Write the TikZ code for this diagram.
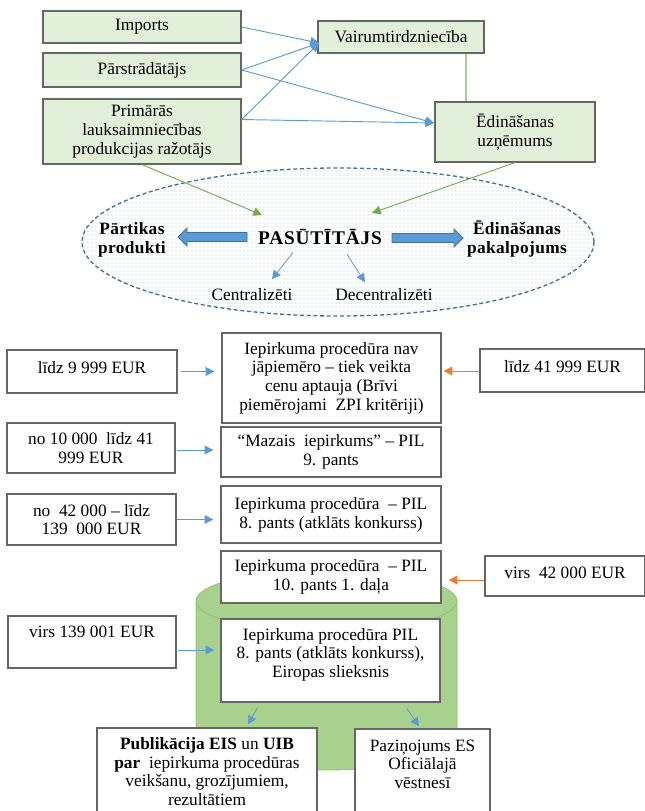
\documentclass[tikz,border=0pt]{standalone}
\usepackage{fontspec}
\setmainfont{Liberation Serif}
\usetikzlibrary{arrows.meta,shapes.geometric,calc,patterns}

\definecolor{boxgreen}{HTML}{E2F0D9}
\definecolor{boxline}{HTML}{666666}
\definecolor{arrblue}{HTML}{5B9BD5}
\definecolor{arrblueline}{HTML}{41719C}
\definecolor{arrorange}{HTML}{ED7D31}
\definecolor{arrgreen}{HTML}{70AD47}
\definecolor{linegreen}{HTML}{A9D18E}
\definecolor{dashblue}{HTML}{41719C}
\definecolor{dotblue}{HTML}{A8C4E0}
\definecolor{cylfill}{HTML}{A9D18E}
\definecolor{cylline}{HTML}{93C072}

\begin{document}
\begin{tikzpicture}[x=0.75pt,y=-0.75pt,
  font=\fontsize{13}{14}\selectfont,
  wh/.style 2 args={minimum width=#1*0.75pt, minimum height=#2*0.75pt},
  box/.style={draw=boxline, line width=0.9pt, inner sep=0pt, align=center},
  gbox/.style={box, fill=boxgreen},
  wbox/.style={box, fill=white},
  lift/.style={text height=9pt, text depth=#1},
  tip/.style={-{Triangle[length=6.5pt,width=6.5pt]}},
  flow/.style={draw=arrblue, line width=0.7pt, tip},
  oflow/.style={draw=arrorange, line width=0.7pt, tip},
  gflow/.style={draw=arrgreen, line width=0.7pt, tip},
  blockarrow/.style={draw=arrblueline, fill=arrblue, line width=0.6pt, line join=miter},
  bold/.style={font=\bfseries\fontsize{13}{14.5}\selectfont\addfontfeature{LetterSpace=2}, align=center}
]
\useasboundingbox (0,0) rectangle (645,811);

% ---------- supply chain ----------
\node[gbox, wh={198}{32}] (imp) at (142,27) {Imports};
\node[gbox, wh={198}{34}] (par) at (142,70) {Pārstrādātājs};
\node[gbox, wh={198}{65}] (pri) at (142,131.5) {Primārās\\lauksaimniecības\\produkcijas ražotājs};
\node[gbox, wh={166}{32}] (vai) at (401,37) {Vairumtirdzniecība};
\node[gbox, wh={160}{60}] (edu) at (515,132) {Ēdināšanas\\uzņēmums};

\coordinate (vin) at (319,43);
\coordinate (ein) at (434,123);
\coordinate (gx) at (466,0);

\draw[flow] (imp.east) -- (vin);
\draw[flow] (par.east) -- (vin);
\draw[flow] (par.east) -- (ein);
\draw[flow] ($(pri.east)+(0,-12)$) -- (vin);
\draw[flow] ($(pri.east)+(0,-12)$) -- (ein);
\draw[draw=linegreen, line width=0.8pt] (vai.south -| gx) -- (edu.north -| gx);

% ---------- customer ----------
\node[ellipse, draw=dashblue, line width=1pt, dash pattern=on 3pt off 2pt,
  pattern=dots, pattern color=dotblue, inner sep=0pt, wh={512}{148}] (cust) at (338,242) {};

\node[font=\bfseries\fontsize{14.5}{16}\selectfont\addfontfeature{LetterSpace=4}] (pas) at (320,237) {PASŪTĪTĀJS};
\node[bold] (food) at (132,240) {Pārtikas\\produkti};
\node[bold] (serv) at (517,239) {Ēdināšanas\\pakalpojums};
\node (cen) at (252,295) {Centralizēti};
\node (dec) at (384,295) {Decentralizēti};

% wide block arrows on both sides of the customer
\filldraw[blockarrow] (247,232.5) -- (187,232.5) -- (187,228) -- (178,237)
  -- (187,246) -- (187,241.5) -- (247,241.5) -- cycle;
\filldraw[blockarrow] (392,233.5) -- (454,233.5) -- (454,229) -- (463,238)
  -- (454,247) -- (454,242.5) -- (392,242.5) -- cycle;

\coordinate (gL) at (262,215);
\coordinate (gR) at (372,213);
\draw[gflow] (pri.south) -- (gL);
\draw[gflow] (edu.south) -- (gR);

\draw[flow, line width=0.6pt] ($(pas.south)+(-27,3)$) -- ($(cen.north)+(20,-5)$);
\draw[flow, line width=0.6pt] ($(pas.south)+(27,5)$) -- ($(dec.north)+(-19,-2)$);

% ---------- thresholds ----------
\fill[cylfill] (196,601) -- (196,739) arc[start angle=180, end angle=0, x radius=130.5, y radius=31]
  -- (457,601) arc[start angle=0, end angle=-180, x radius=130.5, y radius=31] -- cycle;
\draw[cylline, line width=0.6pt] (196,601) -- (196,739) arc[start angle=180, end angle=0, x radius=130.5, y radius=31]
  -- (457,601) arc[start angle=0, end angle=-180, x radius=130.5, y radius=31];
\draw[cylline, line width=0.6pt] (196,601) arc[start angle=180, end angle=0, x radius=130.5, y radius=31];

\node[wbox, wh={170}{43}, lift=6pt] (l1) at (92,371.5) {līdz 9 999 EUR};
\node[wbox, wh={219}{90}] (b1) at (331.5,378) {Iepirkuma procedūra nav\\jāpiemēro – tiek veikta\\cenu aptauja (Brīvi\\piemērojami\ \ ZPI kritēriji)};
\node[wbox, wh={165}{43}, lift=6pt] (r1) at (562.5,370.5) {līdz 41 999 EUR};

\node[wbox, wh={168}{50}] (l2) at (91,448) {no 10 000\ \ līdz 41\\999 EUR};
\node[wbox, wh={220}{50}] (b2) at (331,452) {“Mazais\ \ iepirkums” – PIL\\9. pants};

\node[wbox, wh={169}{51}] (l3) at (91.5,519.5) {no\ \ 42 000 – līdz\\139\ \ 000 EUR};
\node[wbox, wh={220}{57}] (b3) at (331,514.5) {Iepirkuma procedūra\ \ – PIL\\8. pants (atklāts konkurss)};

\node[wbox, wh={220}{52}] (b4) at (331,577) {Iepirkuma procedūra\ \ – PIL\\10. pants 1. daļa};
\node[wbox, wh={160}{40}, lift=5.3pt] (r4) at (565,576) {virs\ \ 42 000 EUR};

\node[wbox, wh={168}{52}, lift=15.5pt] (l4) at (92,642) {virs 139 001 EUR};
\node[wbox, wh={219}{83}, text depth=11.6pt] (b5) at (330.5,660.5) {Iepirkuma procedūra PIL\\8. pants (atklāts konkurss),\\Eiropas slieksnis};

\node[wbox, wh={220}{87}] (pub) at (207,771.5) {\textbf{Publikācija EIS} un \textbf{UIB}\\\textbf{par}\ \ iepirkuma procedūras\\veikšanu, grozījumiem,\\rezultātiem};
\node[wbox, wh={135}{86}, text depth=12pt] (paz) at (422.5,772) {Paziņojums ES\\Oficiālajā\\vēstnesī};

\draw[flow] ($(l1.east)+(3,0)$) -- ($(l1.east -| b1.west)+(-7,0)$);
\draw[oflow] ($(r1.west)+(0,0.5)$) -- ($(r1.west -| b1.east)+(2,0.5)$);
\draw[flow] ($(l2.east)+(1,2)$) -- ($(l2.east -| b2.west)+(-7,2)$);
\draw[flow] (l3.east) -- ($(l3.east -| b3.west)+(-7,0)$);
\draw[oflow] ($(r4.west)+(0,4)$) -- ($(r4.west -| b4.east)+(7,4)$);
\draw[flow] ($(l4.east)+(1,8)$) -- ($(l4.east -| b5.west)+(-6,8)$);
\draw[flow, line width=0.6pt] ($(b5.south)+(-73,5)$) -- ($(pub.north)+(41,-3)$);
\draw[flow, line width=0.6pt] ($(b5.south)+(76.5,6)$) -- ($(paz.north)+(-3.5,-2)$);
\end{tikzpicture}
\end{document}
